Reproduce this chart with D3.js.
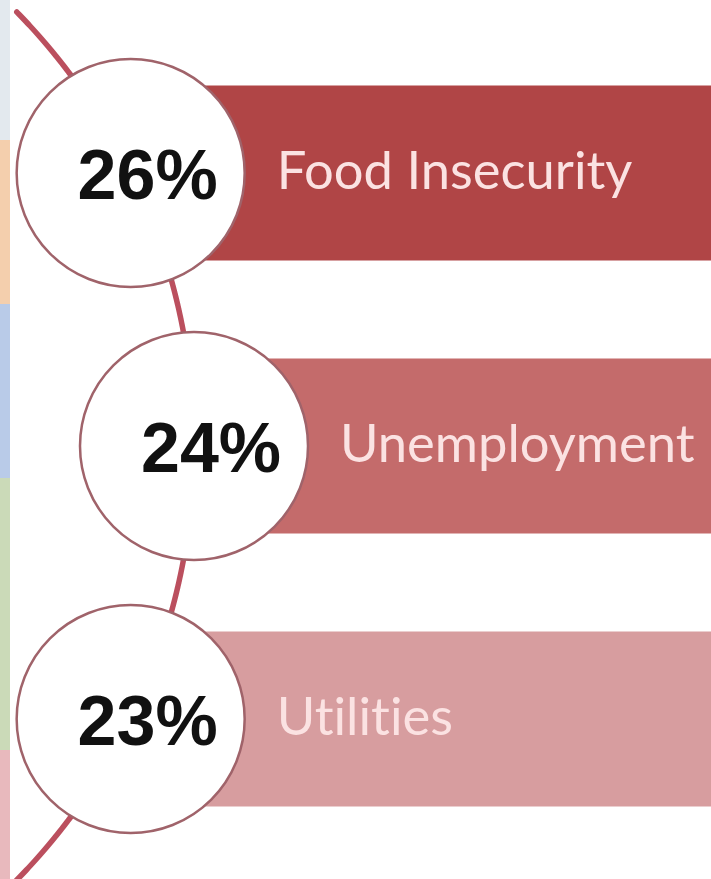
<!DOCTYPE html>
<html>
<head>
<meta charset="utf-8">
<script src="https://cdn.jsdelivr.net/npm/d3@7"></script>
<style>
  html, body { margin: 0; padding: 0; background: #ffffff; }
  svg { display: block; }
  .label { font-variant-ligatures: none; font-feature-settings: "liga" 0; }
</style>
</head>
<body>
<svg id="chart" width="711" height="879"></svg>
<script>
// Share of respondents reporting each hardship
const categories = ["Food Insecurity", "Unemployment", "Utilities"];
const values = [26, 24, 23];
const barColors = ["#b04546", "#c46b6b", "#d79d9f"];

// Pale section tabs along the left margin
const tabColors = ["#e3e9ee", "#f4cfad", "#b9cbe8", "#cbdab8", "#e8b9bd"];
const tabBreaks = [0, 140, 304, 478, 750, 879];

const W = 711, H = 879;
const svg = d3.select("#chart");

// Rows: one per category, centred vertically
const y = d3.scalePoint().domain(categories).range([173, 719]);
const barH = 175;
const badgeR = 114;

// Large guiding arc the badges sit on
const arcCx = -426, arcCy = 446, arcR = 620;
const arcX = yy => arcCx + Math.sqrt(arcR * arcR - (yy - arcCy) * (yy - arcCy));

// Left-margin tabs
svg.append("g").selectAll("rect")
  .data(tabColors)
  .join("rect")
  .attr("x", 0)
  .attr("width", 10)
  .attr("y", (d, i) => tabBreaks[i])
  .attr("height", (d, i) => tabBreaks[i + 1] - tabBreaks[i])
  .attr("fill", d => d);

// Bars
svg.append("g").selectAll("rect")
  .data(categories)
  .join("rect")
  .attr("x", d => arcX(y(d)))
  .attr("y", d => y(d) - barH / 2)
  .attr("width", d => W - arcX(y(d)))
  .attr("height", barH)
  .attr("fill", (d, i) => barColors[i]);

// Guiding arc, sampled along the circle
const yTop = 12, yBottom = H + 10;
const arcPts = d3.range(yTop, yBottom + 1, 2).map(yy => [arcX(yy), yy]);
svg.append("path")
  .attr("d", d3.line().curve(d3.curveBasis)(arcPts))
  .attr("fill", "none")
  .attr("stroke", "#bb4f5e")
  .attr("stroke-width", 5.5)
  .attr("stroke-linecap", "round");

// Badges
const badges = svg.append("g").selectAll("g")
  .data(categories)
  .join("g")
  .attr("transform", d => `translate(${arcX(y(d))},${y(d)})`);

badges.append("circle")
  .attr("r", badgeR)
  .attr("fill", "#ffffff")
  .attr("stroke", "#a0636a")
  .attr("stroke-width", 2.5);

badges.append("text")
  .attr("x", 17)
  .attr("y", 26)
  .attr("text-anchor", "middle")
  .attr("font-family", "'Liberation Sans', Arial, sans-serif")
  .attr("font-weight", "bold")
  .attr("font-size", 70)
  .attr("fill", "#111111")
  .text((d, i) => values[i] + "%");

// Category labels on the bars
svg.append("g").selectAll("text")
  .data(categories)
  .join("text")
  .attr("class", "label")
  .attr("x", d => arcX(y(d)) + badgeR + 32)
  .attr("y", d => y(d) + 16)
  .attr("font-family", "Lato, 'Open Sans', sans-serif")
  .attr("font-size", 52.5)
  .attr("fill", "#fbe2e2")
  .text(d => d);
</script>
</body>
</html>
